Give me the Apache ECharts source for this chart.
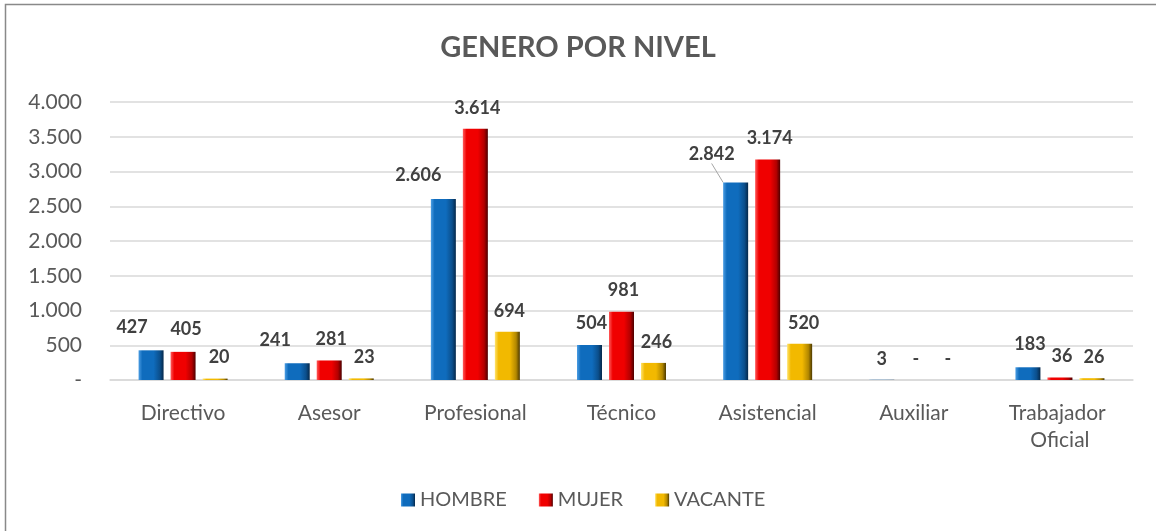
<!DOCTYPE html>
<html>
<head>
<meta charset="utf-8">
<script src="https://cdn.jsdelivr.net/npm/echarts@6/dist/echarts.min.js"></script>
<style>
  html, body { margin: 0; padding: 0; background: #fff; }
  #chart { width: 1156px; height: 531px; }
</style>
</head>
<body>
<div id="chart"></div>
<script>
// datos del grafico
const niveles = ['Directivo', 'Asesor', 'Profesional', 'Técnico', 'Asistencial', 'Auxiliar', 'Trabajador Oficial'];
const hombre = [427, 241, 2606, 504, 2842, 3, 183];
const mujer = [405, 281, 3614, 981, 3174, 0, 36];
const vacante = [20, 23, 694, 246, 520, 0, 26];

// miles con punto, cero como guion
function fmt(v) {
  if (v === 0) return '-';
  return String(v).replace(/\B(?=(\d{3})+(?!\d))/g, '.');
}

function bevel(light, mid, dark, darkest) {
  return {
    type: 'linear', x: 0, y: 0, x2: 1, y2: 0,
    colorStops: [
      { offset: 0, color: light },
      { offset: 0.15, color: mid },
      { offset: 0.6, color: mid },
      { offset: 0.85, color: dark },
      { offset: 1, color: darkest }
    ]
  };
}

// ajustes de etiquetas (como quedaron en Excel)
const shifts = [
  [[-19, -2], [-22, -2], [-25, -3], [2, -1], [-24, -7], [0, 0], [2, -2]],
  [[3, -2], [2, 0], [2, 0], [2, -1], [2, 0], [2, 0], [2, 0]],
  [[4, 0], [3, 0], [2, 0], [3, 0], [4, 0], [2, 0], [2, 0]]
];

function serie(name, values, color, idx) {
  return {
    name: name,
    type: 'bar',
    barWidth: 25,
    barGap: '28%',
    data: values.map(function (v, i) {
      if (idx === 0 && i === 4) {
        return { value: v, labelLine: { show: true, lineStyle: { color: '#a6a6a6', width: 1 } } };
      }
      return v;
    }),
    itemStyle: { color: color },
    label: {
      show: true,
      position: 'top',
      distance: 12,
      fontFamily: 'Lato',
      fontWeight: 'bold',
      fontSize: 18,
      color: '#404040',
      formatter: function (p) { return fmt(p.value); }
    },
    labelLayout: function (params) {
      const s = shifts[idx][params.dataIndex];
      return { dx: s[0], dy: s[1] };
    }
  };
}

const chart = echarts.init(document.getElementById('chart'));
chart.setOption({
  animation: false,
  backgroundColor: '#fff',
  textStyle: { fontFamily: 'Lato' },
  graphic: [{
    type: 'rect',
    shape: { x: 5.5, y: 4.5, width: 1170, height: 560 },
    style: { fill: 'none', stroke: '#898989', lineWidth: 1.5 },
    silent: true
  }],
  title: {
    text: 'GENERO POR NIVEL',
    left: 'center',
    top: 28,
    textStyle: { fontFamily: 'Lato', fontWeight: 'bold', fontSize: 29, color: '#595959' }
  },
  legend: {
    left: 396,
    top: 485,
    icon: 'rect',
    itemWidth: 14,
    itemHeight: 13,
    itemGap: 32,
    textStyle: { fontFamily: 'Lato', fontSize: 20, color: '#595959' },
    data: ['HOMBRE', 'MUJER', 'VACANTE']
  },
  grid: { left: 110, right: 23, top: 102, bottom: 151 },
  xAxis: {
    type: 'category',
    data: niveles,
    axisLine: { lineStyle: { color: '#d9d9d9', width: 1.5 } },
    axisTick: { show: false },
    axisLabel: {
      fontFamily: 'Lato',
      fontSize: 21,
      color: '#595959',
      margin: 20,
      lineHeight: 27,
      width: 130,
      overflow: 'break',
      interval: 0
    }
  },
  yAxis: {
    type: 'value',
    min: 0,
    max: 4000,
    interval: 500,
    axisLine: { show: false },
    axisTick: { show: false },
    splitLine: { lineStyle: { color: '#d9d9d9', width: 1.5 } },
    axisLabel: {
      fontFamily: 'Lato',
      fontSize: 21,
      color: '#595959',
      margin: 28,
      formatter: function (v) { return fmt(v); }
    }
  },
  series: [
    serie('HOMBRE', hombre, bevel('#4b9de3', '#0f6cbd', '#0b4f8c', '#05284a'), 0),
    serie('MUJER', mujer, bevel('#ff5a5a', '#f00000', '#b30000', '#4d0000'), 1),
    serie('VACANTE', vacante, bevel('#ffe36b', '#f2b900', '#b38800', '#4d3a00'), 2)
  ]
});
</script>
</body>
</html>
